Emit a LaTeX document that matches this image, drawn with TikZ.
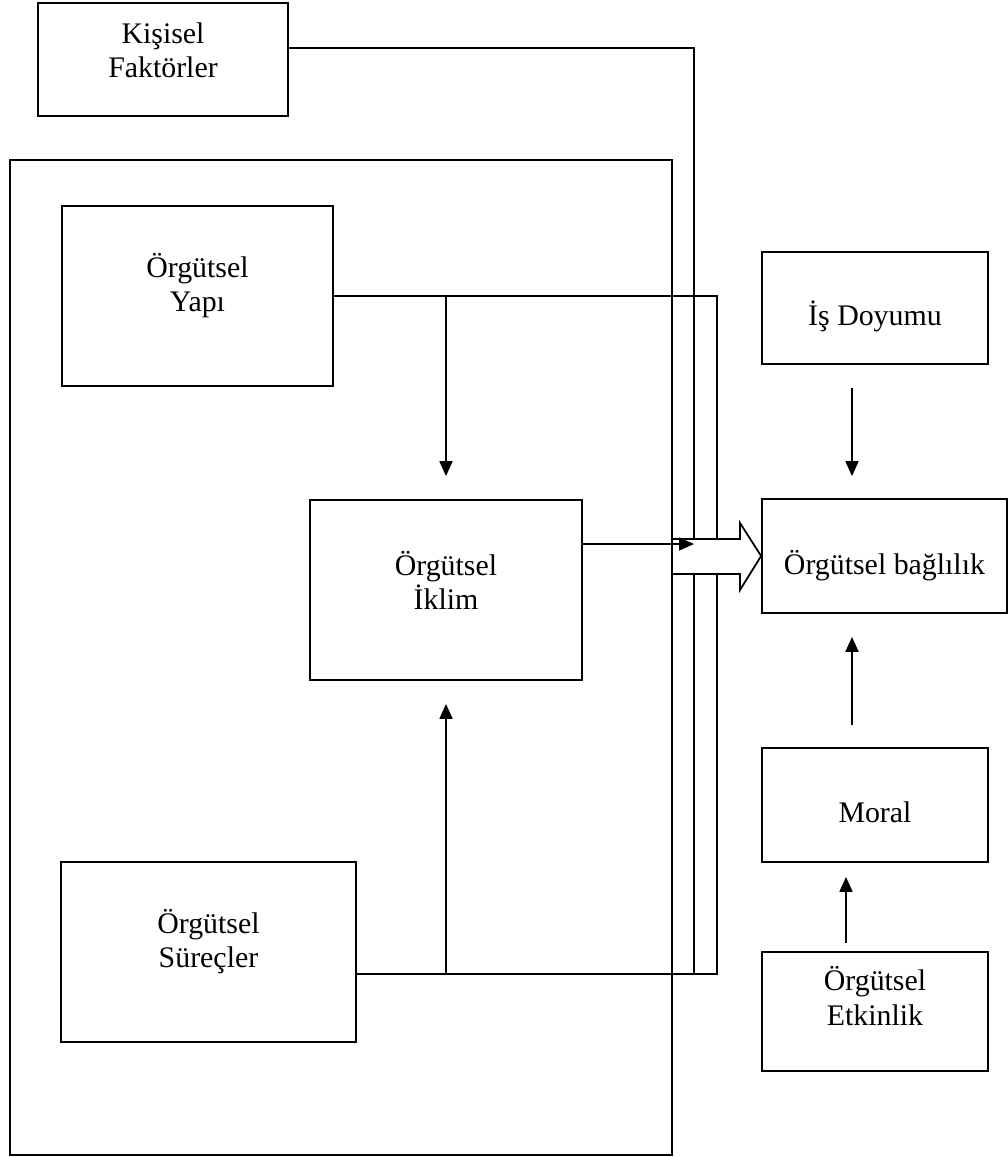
\documentclass[tikz,border=0pt]{standalone}
\usepackage{fontspec}
\setmainfont{Liberation Serif}
\usetikzlibrary{arrows.meta,positioning,calc}
\newlength\pxu
\setlength\pxu{0.02cm}

\begin{document}
\begin{tikzpicture}[x=0.02cm, y=-0.02cm, line width=1pt,
  box/.style={draw, line width=1pt, inner sep=0pt},
  lbl/.style={font=\fontsize{17}{19.4}\selectfont, align=center, inner sep=0pt},
  arr/.style={-{Triangle[length=0.3cm, width=0.26cm]}}]
  \useasboundingbox (0,0) rectangle (1008,1157);

  % Outer frame and left boxes
  \node[box, minimum width=250\pxu, minimum height=113\pxu] (kisisel) at (163,59.5) {};
  \node[lbl] (kisiselT) at (163,50) {Kişisel\\Faktörler};
  \node[box, minimum width=662\pxu, minimum height=995\pxu] (orgut) at (341,657.5) {};
  \node[box, minimum width=271\pxu, minimum height=180\pxu] (yapi) at (197.5,296) {};
  \node[lbl] (yapiT) at (197.5,286) {Örgütsel\\Yapı};
  \node[box, minimum width=272\pxu, minimum height=180\pxu] (iklim) at (446,590) {};
  \node[lbl] (iklimT) at (446,580) {Örgütsel\\İklim};
  \node[box, minimum width=295\pxu, minimum height=180\pxu] (surec) at (208.5,952) {};
  \node[lbl] (surecT) at (208.5,942) {Örgütsel\\Süreçler};

  % Right column
  \node[box, minimum width=226\pxu, minimum height=112\pxu] (isd) at (875,308) {};
  \node[lbl, anchor=base] (isdT) at (875,325) {İş Doyumu};
  \node[box, minimum width=245\pxu, minimum height=114\pxu] (bag) at (884.5,556) {};
  \node[lbl, anchor=base] (bagT) at (884.5,574) {Örgütsel bağlılık};
  \node[box, minimum width=226\pxu, minimum height=114\pxu] (moral) at (875,805) {};
  \node[lbl, anchor=base] (moralT) at (875,822) {Moral};
  \node[box, minimum width=226\pxu, minimum height=119\pxu] (etk) at (875,1011.5) {};
  \node[lbl] (etkT) at (875,996) {Örgütsel\\Etkinlik};

  % Helper coordinates
  \coordinate (kx) at (694,0);
  \coordinate (rx) at (717,0);
  \coordinate (kl) at (0,48);
  \coordinate (sl) at (0,974);
  \coordinate (il) at (0,544);
  \coordinate (colA) at (852,0);
  \coordinate (colB) at (846,0);

  % Lines on the left
  \draw (kisisel.east |- kl) -- (kx |- kl) -- (kx |- sl);
  \draw (yapi.east) -- (rx |- yapi.east) -- (rx |- sl) -- (surec.east |- sl);
  \draw[arr, shorten >=0.46cm] (yapi.east -| iklim.north) -- (iklim.north);
  \draw[arr, shorten >=0.46cm] (sl -| iklim.south) -- (iklim.south);

  % Block arrow
  \draw[fill=white] (672,539) -- (740,539) -- (740,523) -- (bag.west) -- (740,590) -- (740,574) -- (672,574) -- cycle;
  \draw[arr] (iklim.east |- il) -- (kx |- il);

  % Arrows on the right
  \draw[arr, shorten <=0.46cm, shorten >=0.44cm] (isd.south -| colA) -- (bag.north -| colA);
  \draw[arr, shorten <=0.44cm, shorten >=0.46cm] (moral.north -| colA) -- (bag.south -| colA);
  \draw[arr, shorten <=0.16cm, shorten >=0.28cm] (etk.north -| colB) -- (moral.south -| colB);
\end{tikzpicture}
\end{document}
